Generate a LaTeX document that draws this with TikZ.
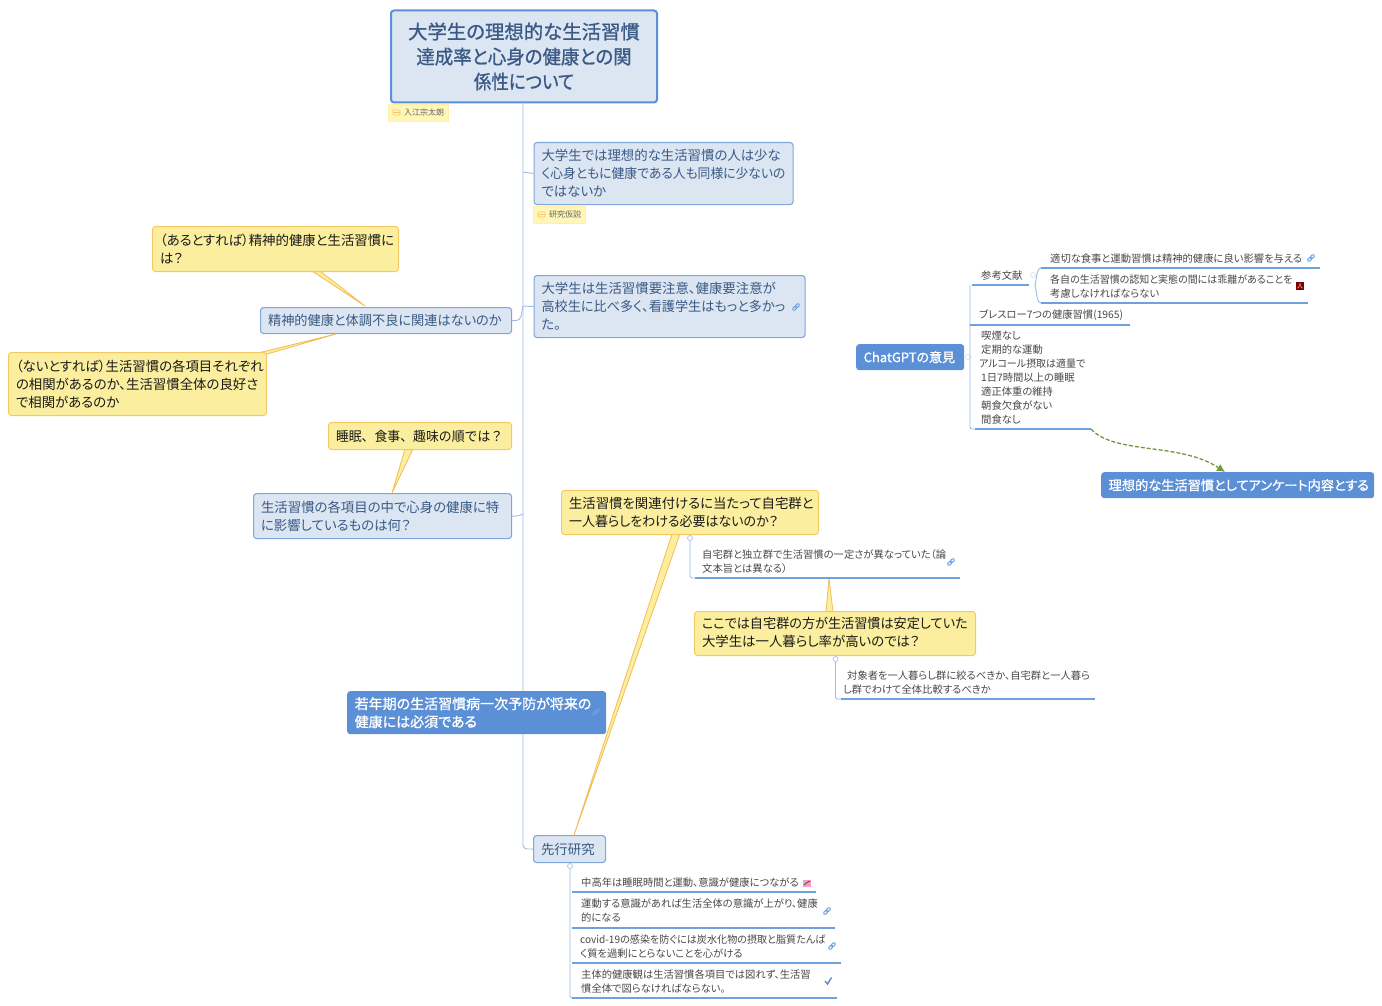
\documentclass[tikz,border=0pt]{standalone}
\usepackage{fontspec}
\setmainfont[RawFeature=+palt]{Noto Sans CJK JP}
\newfontfamily\medjp[RawFeature=+palt,FakeBold=1]{Noto Sans CJK JP}
\newfontfamily\plainjp{Noto Sans CJK JP}
\usetikzlibrary{arrows.meta}
\definecolor{bfill}{HTML}{DCE5F2}
\definecolor{bline}{HTML}{7FA6DD}
\definecolor{btext}{HTML}{3A5A85}
\definecolor{yfill}{HTML}{FBEE9E}
\definecolor{yline}{HTML}{F5C765}
\definecolor{wline}{HTML}{F3BC55}
\definecolor{solid}{HTML}{5B90D6}
\definecolor{conn}{HTML}{9DBBE6}
\definecolor{rulec}{HTML}{6FA0E0}
\definecolor{tagf}{HTML}{FFF6B8}
\definecolor{tagl}{HTML}{FFEFA8}
\definecolor{greendash}{HTML}{6F9A3C}
\newcommand\squeeze[2]{\scalebox{#1}[1]{#2}}
\tikzset{
 x=1pt,y=-1pt,
 liftup/.style={execute at end node={\par\vskip#1}},
 boxbase/.style={anchor=north west,rounded corners=3pt,inner xsep=7.5pt,inner ysep=0pt,align=left,
   font=\fontsize{13.4}{18}\selectfont},
 topicbox/.style={boxbase,draw=bline,line width=1.1pt,fill=bfill,text=btext,liftup=1pt},
 ybox/.style={boxbase,draw=yline,line width=1pt,fill=yfill,text=black!90,liftup=2pt},
 solidbox/.style={boxbase,fill=solid,text=white,font=\fontsize{14}{18}\medjp},
 titlebox/.style={anchor=north west,rounded corners=3pt,draw=solid,line width=2pt,fill=bfill,text=btext,align=center,inner sep=0pt,
   font=\fontsize{19.4}{25}\medjp,liftup=10pt},
 tagbox/.style={anchor=north west,draw=tagl,fill=tagf,text=black!60,inner ysep=0pt,inner xsep=3pt,align=right,
   font=\fontsize{8}{10}\selectfont},
 note/.style={anchor=north west,inner sep=0pt,align=left,text=black!72,font=\fontsize{10.3}{14}\selectfont},
 rule/.style={draw=rulec,line width=1.1pt},
 link/.style={draw=conn,line width=.9pt,rounded corners=4pt},
 wedge/.style={draw=wline,fill=yfill,line width=.8pt,line join=round},
 fold/.style={circle,draw=conn,fill=white,line width=.6pt,inner sep=0pt,minimum size=5pt},
}
\newcommand\linkicon[1]{\begin{scope}[shift={#1},rotate=45]
 \draw[rulec,line width=1.1pt,rounded corners=1pt] (-4.2,-1.3) rectangle (.3,1.3);
 \draw[rulec,line width=1.1pt,rounded corners=1pt] (-.3,-1.3) rectangle (4.2,1.3);
 \end{scope}}
\newcommand\tagicon[1]{\begin{scope}[shift={#1}]
 \draw[yline,line width=.7pt,rounded corners=.7pt] (-3.5,-2.5) rectangle (3.5,2.5);
 \draw[yline,line width=.7pt] (-3.5,0) -- (3.5,0);
 \end{scope}}
\begin{document}
\begin{tikzpicture}
\useasboundingbox (0,0) rectangle (1382,1006);
\coordinate (spineTop) at (523,103);
\coordinate (sp1) at (523,173);
\coordinate (sp2) at (523,306);
\coordinate (sp3) at (523,514);
\coordinate (spEnd) at (523,849);
\node[titlebox,minimum width=266,minimum height=92,text width=266] (title) at (390,9.5) {大学生の理想的な生活習慣\\\squeeze{.95}{達成率と心身の健康との関}\\\squeeze{.9}{係性について}};
\node[tagbox,minimum width=60,minimum height=17] (tag1) at (388,104) {\hspace*{12pt}入江宗太朗};
\tagicon{(396.5,112.5)}
\node[topicbox,minimum width=259,minimum height=62,text width=244] (hyp) at (533.5,142) {大学生では理想的な生活習慣の人は少な\\\squeeze{.955}{く心身ともに健康である人も同様に少ないの}\\ではないか};
\node[tagbox,minimum width=52,minimum height=17] (tag2) at (533,206) {\hspace*{12pt}研究仮説};
\tagicon{(541.5,214.5)}
\node[topicbox,minimum width=271,minimum height=62,text width=256] (res) at (533.5,275) {大学生は生活習慣要注意、健康要注意が\\\squeeze{.98}{高校生に比べ多く、看護学生はもっと多かっ}\\た。};
\linkicon{(796,307)}
\node[topicbox,minimum width=251,minimum height=26,text width=236] (ment) at (260,307) {\squeeze{.985}{精神的健康と体調不良に関連はないのか}};
\node[topicbox,minimum width=258,minimum height=45,text width=243] (item) at (253,493) {生活習慣の各項目の中で心身の健康に特\\に影響しているものは何？};
\node[topicbox,minimum width=72,minimum height=27,text width=57] (prev) at (533,835) {先行研究};
\draw[link] (spineTop) -- (spEnd) -- (prev.west);
\draw[link] (sp1) ++(0,-1) -- (hyp.west);
\draw[link] (sp2) -- (res.west);
\draw[link] (ment.east) -- ++(8,0) -- (sp2);
\draw[link] (item.east) -- ++(8,0) -- (sp3);
\coordinate (tipA) at (365,306);
\coordinate (tipB) at (336,334);
\coordinate (tipC) at (392,493);
\coordinate (tipD) at (574,835);
\coordinate (tipE) at (829,578);
\draw[wedge] (312,271) -- (tipA) -- (320,271) -- cycle;
\draw[wedge] (258,353) -- (tipB) -- (267,354) -- cycle;
\draw[wedge] (405,449) -- (tipC) -- (413,449) -- cycle;
\draw[wedge] (672,534) -- (tipD) -- (680,534) -- cycle;
\draw[wedge] (826,612) -- (tipE) -- (833,612) -- cycle;
\node[ybox,minimum width=246,minimum height=45,text width=231] (y1) at (152,226) {（あるとすれば）精神的健康と生活習慣に\\は？};
\node[ybox,minimum width=258,minimum height=63,text width=243] (y2) at (8,352) {（ないとすれば）生活習慣の各項目それぞれ\\の相関があるのか、生活習慣全体の良好さ\\で相関があるのか};
\node[ybox,minimum width=183,minimum height=27,text width=168] (y3) at (328,422) {{\plainjp\squeeze{.96}{睡眠、食事、趣味の順では？}}};
\node[ybox,minimum width=257,minimum height=44,text width=242] (y4) at (561,490) {生活習慣を関連付けるに当たって自宅群と\\\squeeze{.97}{一人暮らしをわける必要はないのか？}};
\node[ybox,liftup=4pt,minimum width=281,minimum height=44,text width=266] (y5) at (694,611) {\squeeze{.98}{ここでは自宅群の方が生活習慣は安定していた}\\大学生は一人暮らし率が高いのでは？};
\node[solidbox,minimum width=259,minimum height=43,text width=244] (young) at (347,691) {若年期の生活習慣病一次予防が将来の\\健康には必須である};
\linkicon{(596,712)}
\node[solidbox,font=\fontsize{13}{18}\medjp,minimum width=108,minimum height=26,text width=93] (gpt) at (856,344) {ChatGPTの意見};
\node[solidbox,font=\fontsize{13.2}{18}\medjp,minimum width=273,minimum height=26,text width=258] (goal) at (1101,472) {理想的な生活習慣としてアンケート内容とする};
\node[fold] (f1) at (690,538) {};
\node[note,minimum height=34,text width=250] (n1) at (702,544.5) {自宅群と独立群で生活習慣の一定さが異なっていた（論\\文本旨とは異なる）};
\coordinate (n1a) at (690,578);\coordinate (n1b) at (960,578);
\draw[link,rounded corners=1.5pt] (f1) -- (n1a) -- (695,578);
\draw[rule] (695,578) -- (n1b);
\linkicon{(951,562)}
\node[fold] (f2) at (835.5,659) {};
\node[note,minimum height=34,text width=250] (n2) at (843,665.5) {\hspace*{4pt}対象者を一人暮らし群に絞るべきか、自宅群と一人暮ら\\し群でわけて全体比較するべきか};
\coordinate (n2a) at (835.5,699);\coordinate (n2b) at (1095,699);
\draw[link,rounded corners=1.5pt] (f2) -- (n2a) -- (841,699);
\draw[rule] (841,699) -- (n2b);
\node[fold] (f3) at (570,866) {};
\node[note,minimum height=19,text width=230] (p1) at (581,873) {中高年は睡眠時間と運動、意識が健康につながる};
\node[note,minimum height=34,text width=245] (p2) at (581,893) {運動する意識があれば生活全体の意識が上がり、健康\\的になる};
\node[note,minimum height=34,text width=250] (p3) at (580,929.5) {\squeeze{.98}{covid-19の感染を防ぐには炭水化物の摂取と脂質たんぱ}\\く質を過剰にとらないことを心がける};
\node[note,minimum height=34,text width=245] (p4) at (581,964.5) {主体的健康観は生活習慣各項目では図れず、生活習\\慣全体で図らなければならない。};
\coordinate (pb1a) at (572,892);\coordinate (pb1b) at (816,892);
\coordinate (pb2a) at (572,928);\coordinate (pb2b) at (835,928);
\coordinate (pb3a) at (572,963);\coordinate (pb3b) at (841,963);
\coordinate (pb4a) at (572,998);\coordinate (pb4b) at (837,998);
\draw[link,rounded corners=1.5pt] (f3) -- (570,998) -- (pb4a);
\draw[rule] (pb1a) -- (pb1b);
\draw[rule] (pb2a) -- (pb2b);
\draw[rule] (pb3a) -- (pb3b);
\draw[rule] (pb4a) -- (pb4b);
\fill[pink!80!magenta] (803,879.5) rectangle (811,886.5);
\draw[green!45!black,line width=.7pt] (804,885) -- (807,882.5) -- (810,881);
\linkicon{(827,911)}
\linkicon{(832,946)}
\draw[rulec!85!black,line width=1.4pt] (825,981) -- (827.5,984) -- (831.5,977.5);
\node[fold,draw=conn!50] (f4) at (968,357) {};
\node[note,text width=46] (c1) at (981,271) {参考文献};
\coordinate (c1a) at (970,285);\coordinate (c1b) at (1029,285);
\node[fold,draw=conn!50] (f5) at (1033,275) {};
\node[note,text width=260] (s1) at (1050,254) {適切な食事と運動習慣は精神的健康に良い影響を与える};
\node[note,text width=250] (s2) at (1050,275) {\squeeze{.97}{各自の生活習慣の認知と実態の間には乖離があることを}\\考慮しなければならない};
\coordinate (s1a) at (1041,268);\coordinate (s1b) at (1320,268);
\coordinate (s2a) at (1041,303);\coordinate (s2b) at (1308,303);
\coordinate (forkS) at (1035,285);
\draw[link,rounded corners=0pt] (forkS) .. controls (1037,275) and (1037,268) .. (s1a);
\draw[link,rounded corners=0pt] (forkS) .. controls (1037,295) and (1037,303) .. (s2a);
\draw[rule] (s1a) -- (s1b);
\draw[rule] (s2a) -- (s2b);
\linkicon{(1311,258)}
\fill[red!50!black] (1296,282) rectangle (1304,290);
\node[anchor=center,inner sep=0pt,text=white,font=\fontsize{6}{6}\selectfont] (pdfmark) at (1300,286) {人};
\node[note,text width=150] (c2) at (979,309) {ブレスロー7つの健康習慣(1965)};
\coordinate (c2a) at (970,325);\coordinate (c2b) at (1130,325);
\node[note,text width=115] (c3) at (981,331) {喫煙なし\\定期的な運動\\\hspace*{-2pt}\squeeze{.97}{アルコール摂取は適量で}\\1日7時間以上の睡眠\\適正体重の維持\\朝食欠食がない\\間食なし};
\coordinate (c3a) at (970,429);\coordinate (c3b) at (1091,429);
\draw[link,rounded corners=2pt] (c1a) -- (970,429) -- (975,429);
\draw[link] (f4) -- (970,357);
\draw[rule] (972,285) -- (c1b);
\draw[rule] (c2a) -- (c2b);
\draw[rule] (975,429) -- (c3b);
\coordinate (goalTop) at (1225,472);
\draw[greendash,dash pattern=on 4pt off 2pt,line width=1.3pt,-{Latex[length=8pt,width=8pt]}] (c3b) .. controls (1115,455) and (1180,442) .. (goalTop);
\end{tikzpicture}
\end{document}
